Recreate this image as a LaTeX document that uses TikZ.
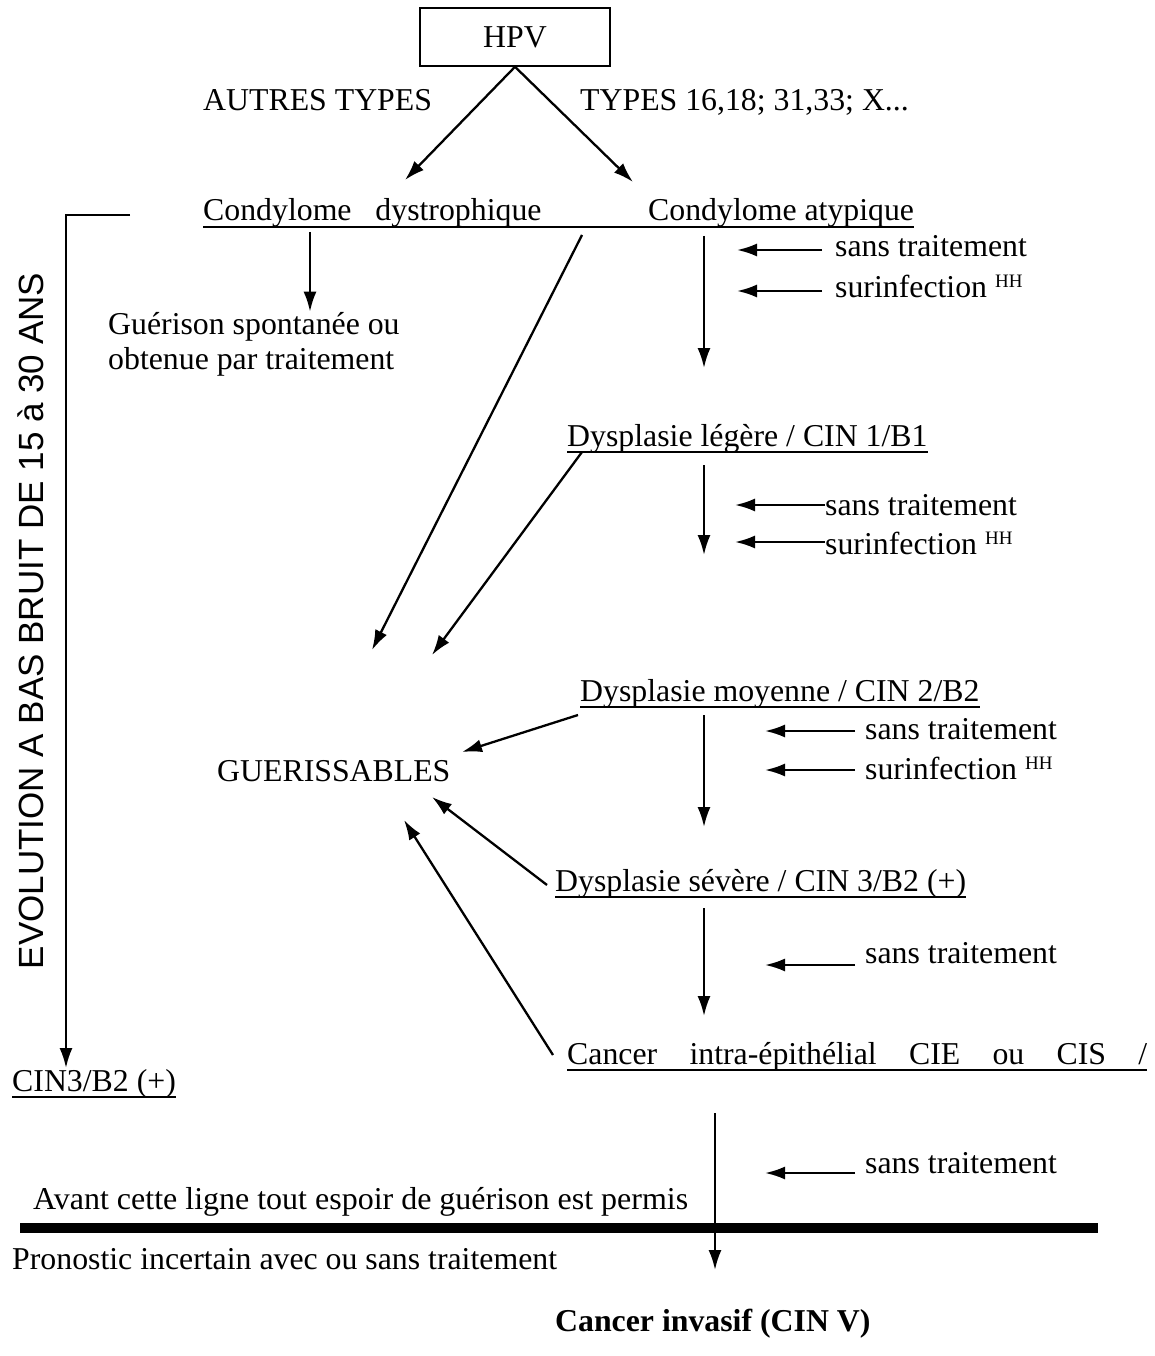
\documentclass[tikz,border=0pt]{standalone}
\usepackage{fontspec}
\setmainfont{Liberation Serif}
\newfontfamily\arialfont{Liberation Sans}
\usetikzlibrary{arrows.meta}

\begin{document}
\begin{tikzpicture}[x=1pt,y=-1pt,
  txt/.style={inner sep=0pt, anchor=base west, font=\fontsize{31.8}{36}\selectfont},
  conn/.style={line width=2.3pt, -{Latex[length=20pt,width=13pt]}},
  ul/.style={line width=2.5pt}
]
\useasboundingbox (0,0) rectangle (1155,1356);

% top box and the two virus families
\node[draw, line width=1.6pt, minimum width=190pt, minimum height=58pt, inner sep=0pt,
      font=\fontsize{31.8}{36}\selectfont] (hpv) at (515,37) {HPV};
\node[txt] (autres) at (203,111) {AUTRES TYPES};
\node[txt] (types) at (580,111) {TYPES 16,18; 31,33; X...};
\coordinate (tipdys) at (405,180);
\coordinate (tipaty) at (633,182);
\draw[conn] (hpv.south) -- (tipdys);
\draw[conn] (hpv.south) -- (tipaty);

% condylomes
\node[txt] (cdys) at (203,221) {Condylome\ \ \ dystrophique};
\node[txt] (catyp) at (648,221) {Condylome atypique};
\draw[ul] ([yshift=-6pt]cdys.base west) -- ([yshift=-6pt]catyp.base east);

\node[txt] (guer1) at (108,334) {Guérison spontanée ou};
\node[txt] (guer2) at (108,369) {obtenue par traitement};
\draw[conn] (310,232) -- (guer1.north -| 310,0);

% left bracket: slow evolution
\node[rotate=90, inner sep=0pt, font=\arialfont\fontsize{35}{40}\selectfont] (evol) at (31,621)
  {EVOLUTION A BAS BRUIT DE 15 à 30 ANS};
\node[txt] (cin3b) at (12,1091) {CIN3/B2 (+)};
\draw[ul] ([yshift=-6pt]cin3b.base west) -- ([yshift=-6pt]cin3b.base east);
\coordinate (brk) at (130,215);
\coordinate (brkend) at (66,1068);
\draw[conn] (brk) -| (brkend);

% main progression column
\node[txt] (dleg) at (567,446) {Dysplasie légère / CIN 1/B1};
\draw[ul] ([yshift=-6pt]dleg.base west) -- ([yshift=-6pt]dleg.base east);
\node[txt] (dmoy) at (580,701) {Dysplasie moyenne / CIN 2/B2};
\draw[ul] ([yshift=-6pt]dmoy.base west) -- ([yshift=-6pt]dmoy.base east);
\node[txt] (dsev) at (555,891) {Dysplasie sévère / CIN 3/B2 (+)};
\draw[ul] ([yshift=-6pt]dsev.base west) -- ([yshift=-6pt]dsev.base east);
\node[txt] (cie) at (567,1064) {\makebox[580pt][s]{Cancer\hfill intra-épithélial\hfill CIE\hfill ou\hfill CIS\hfill /}};
\draw[ul] ([yshift=-6pt]cie.base west) -- ([yshift=-6pt]cie.base east);

\draw[conn] (704,236) -- (704,368);
\draw[conn] (704,465) -- (704,555);
\draw[conn] (704,715) -- (704,827);
\draw[conn] (704,908) -- (704,1016);

% cofactors
\node[txt] (st1) at (835,256) {sans traitement};
\node[txt] (si1) at (835,297) {surinfection \raisebox{10pt}{\fontsize{19}{22}\selectfont HH}};
\draw[conn] ([xshift=-13pt]st1.west |- 0,250) -- (737,250);
\draw[conn] ([xshift=-13pt]si1.west |- 0,291) -- (737,291);

\node[txt] (st2) at (825,515) {sans traitement};
\node[txt] (si2) at (825,554) {surinfection \raisebox{10pt}{\fontsize{19}{22}\selectfont HH}};
\draw[conn] (st2.west |- 0,505) -- (735,505);
\draw[conn] (si2.west |- 0,542) -- (735,542);

\node[txt] (st3) at (865,739) {sans traitement};
\node[txt] (si3) at (865,779) {surinfection \raisebox{10pt}{\fontsize{19}{22}\selectfont HH}};
\draw[conn] ([xshift=-10pt]st3.west |- 0,731) -- (765,731);
\draw[conn] ([xshift=-10pt]si3.west |- 0,770) -- (765,770);

\node[txt] (st4) at (865,963) {sans traitement};
\draw[conn] ([xshift=-10pt]st4.west |- 0,965) -- (765,965);

\node[txt] (st5) at (865,1173) {sans traitement};
\draw[conn] ([xshift=-10pt]st5.west |- 0,1173) -- (765,1173);

% curable lesions
\node[txt] (guerb) at (217,781) {GUERISSABLES};
\coordinate (g1) at (372,650);
\coordinate (g2) at (432,655);
\coordinate (g3) at (462,752);
\coordinate (g4) at (432,797);
\coordinate (g5) at (404,820);
\draw[conn] (582,235) -- (g1);
\draw[conn] (582,452) -- (g2);
\draw[conn] (578,715) -- (g3);
\draw[conn] (547,885) -- (g4);
\draw[conn] (553,1055) -- (g5);

% point of no return
\node[txt] (avant) at (33,1209) {\resizebox{655pt}{\height}{Avant cette ligne tout espoir de guérison est permis}};
\draw[line width=10pt] (20,1228) -- (1098,1228);
\node[txt] (prono) at (12,1269) {Pronostic incertain avec ou sans traitement};
\node[txt, font=\bfseries\fontsize{31.8}{36}\selectfont] (invas) at (555,1331) {Cancer invasif (CIN V)};
\draw[conn] (715,1113) -- (715,1270);

\end{tikzpicture}
\end{document}
